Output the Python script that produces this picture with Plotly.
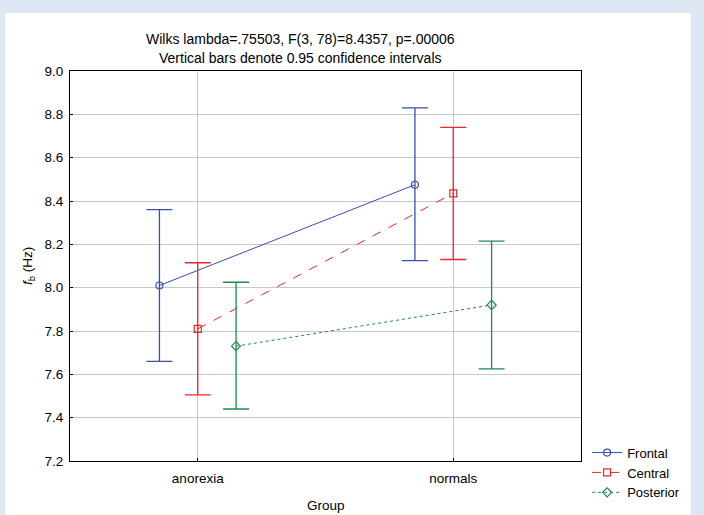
import plotly.graph_objects as go

groups = ["anorexia", "normals"]
series = ["Frontal", "Central", "Posterior"]
means = {
    "Frontal": [8.01, 8.475],
    "Central": [7.81, 8.435],
    "Posterior": [7.73, 7.92],
}
upper = {
    "Frontal": [8.36, 8.83],
    "Central": [8.115, 8.74],
    "Posterior": [8.025, 8.215],
}
lower = {
    "Frontal": [7.66, 8.125],
    "Central": [7.505, 8.13],
    "Posterior": [7.44, 7.625],
}
offsets = {"Frontal": -0.15, "Central": 0.0, "Posterior": 0.15}
colors = {"Frontal": "#3a4db0", "Central": "#e8262c", "Posterior": "#1f8a4d"}
dashes = {"Frontal": "solid", "Central": "dash", "Posterior": "dot"}
symbols = {"Frontal": "circle-open", "Central": "square-open", "Posterior": "diamond-open"}
msizes = {"Frontal": 7, "Central": 7, "Posterior": 7}

fig = go.Figure()
for s in series:
    xs = [i + offsets[s] for i in range(len(groups))]
    fig.add_trace(go.Scatter(
        x=xs, y=means[s], name=s, mode="lines+markers",
        line=dict(color=colors[s], width=1, dash=dashes[s]),
        marker=dict(symbol=symbols[s], size=msizes[s], color=colors[s],
                    line=dict(width=1.2, color=colors[s])),
        error_y=dict(type="data", symmetric=False,
                     array=[u - m for u, m in zip(upper[s], means[s])],
                     arrayminus=[m - l for l, m in zip(lower[s], means[s])],
                     color=colors[s], thickness=1.3, width=13),
    ))

font = "Liberation Sans, Arial, sans-serif"
fig.update_layout(
    width=704, height=515,
    margin=dict(l=70, r=123, t=71, b=54, autoexpand=False),
    paper_bgcolor="#dfe7f3",
    plot_bgcolor="white",
    font=dict(family=font, size=13.5, color="black"),
    showlegend=True,
    legend=dict(x=1.012, y=0.06, xanchor="left", yanchor="top",
                bgcolor="rgba(0,0,0,0)", font=dict(size=13),
                tracegroupgap=0, itemwidth=30),
    xaxis=dict(range=[-0.5, 1.5], tickvals=[0, 1], ticktext=groups,
               showgrid=True, gridcolor="#c8c8c8", gridwidth=1,
               showline=True, linecolor="black", linewidth=1, mirror=True,
               ticks="inside", ticklen=3, tickcolor="black", zeroline=False,
               ticklabelstandoff=5, automargin=False),
    yaxis=dict(range=[7.2, 9.0], tickvals=[7.2, 7.4, 7.6, 7.8, 8.0, 8.2, 8.4, 8.6, 8.8, 9.0],
               tickformat=".1f",
               showgrid=True, gridcolor="#c8c8c8", gridwidth=1,
               showline=True, linecolor="black", linewidth=1, mirror=True,
               ticks="inside", ticklen=3, tickcolor="black", zeroline=False,
               ticklabelstandoff=3, automargin=False),
    shapes=[dict(type="rect", xref="paper", yref="paper",
                 x0=-0.127, x1=1.215, y0=-0.2, y1=1.149,
                 fillcolor="white", line=dict(width=0), layer="below")],
    annotations=[
        dict(text="Wilks lambda=.75503, F(3, 78)=8.4357, p=.00006", xref="paper", yref="paper",
             x=0.452, y=1.082, xanchor="center", yanchor="middle",
             showarrow=False, font=dict(size=14)),
        dict(text="Vertical bars denote 0.95 confidence intervals", xref="paper", yref="paper",
             x=0.452, y=1.033, xanchor="center", yanchor="middle",
             showarrow=False, font=dict(size=14)),
        dict(text="Group", xref="paper", yref="paper",
             x=0.5, y=-0.113, xanchor="center", yanchor="middle",
             showarrow=False, font=dict(size=13.5)),
        dict(text="<i>f</i><sub>b</sub> (Hz)", xref="paper", yref="paper",
             x=-0.082, y=0.5, xanchor="center", yanchor="middle", textangle=-90,
             showarrow=False, font=dict(size=13.5)),
    ],
)

fig.write_html("out.html", config={"displayModeBar": False},
               post_script="document.body.style.margin='0px';document.body.style.padding='0px';")
